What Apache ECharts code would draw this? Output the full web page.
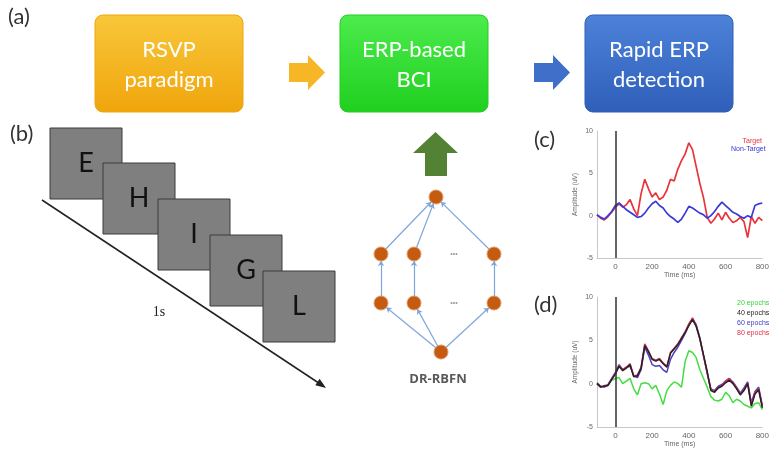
<!DOCTYPE html>
<html><head><meta charset="utf-8">
<script src="https://cdn.jsdelivr.net/npm/echarts@6/dist/echarts.min.js"></script>
<style>html,body{margin:0;padding:0;background:#fff}#c{width:772px;height:449px}</style>
</head><body><div id="c"></div>
<script>
// ---- data ----
var times = [-100,-80,-60,-40,-20,0,20,40,60,80,100,120,140,160,180,200,220,240,260,280,300,320,340,360,380,400,420,440,460,480,500,520,540,560,580,600,620,640,660,680,700,720,740,760,780,800];
var target = [0.1,-0.3,-0.5,-0.1,0.4,1.0,1.4,1.0,1.3,1.9,0.8,0.0,2.6,4.3,3.2,2.2,2.7,1.9,2.2,3.0,4.3,4.1,5.5,6.5,7.3,8.6,7.8,5.8,3.8,2.1,-0.2,-0.9,-0.4,0.3,-0.5,0.4,-0.3,-0.8,-0.6,-0.2,-0.7,-2.6,-0.1,-0.9,-0.2,-0.6];
var nonTarget = [0.1,-0.2,-0.4,0.0,0.5,1.2,1.5,1.1,0.7,0.4,0.1,-0.2,-0.1,0.3,0.9,1.4,1.7,1.2,0.9,0.3,-0.1,-0.4,-0.8,-0.4,0.3,1.1,0.9,0.6,0.3,0.1,-0.3,0.0,0.5,1.1,1.6,1.2,0.8,0.4,0.2,-0.1,-0.3,0.0,-0.2,1.2,1.4,1.5];
var ep20 = [0.0,-0.3,-0.3,-0.1,0.4,0.6,0.7,0.0,0.3,0.6,-0.6,-1.3,0.0,0.1,0.0,-0.6,-0.2,-1.2,-2.4,-0.8,-0.2,0.2,0.0,-0.4,2.6,3.8,3.6,3.0,1.6,0.6,-0.4,-1.5,-1.9,-2.0,-1.8,-1.0,-1.4,-2.2,-1.8,-2.0,-2.4,-2.6,-2.8,-2.3,-2.2,-3.0];
var ep40 = [0.0,-0.4,-0.3,-0.2,0.5,1.1,2.0,1.5,1.8,2.2,0.8,0.9,1.8,4.4,3.7,2.8,2.6,2.8,2.3,1.9,3.5,4.0,4.5,5.2,5.9,6.7,7.4,6.6,5.2,3.3,1.4,-0.8,-1.0,-0.5,-0.3,0.1,0.4,0.0,-0.6,-1.3,-0.8,0.0,-2.6,-1.2,-0.7,-2.8];
var ep60 = [0.1,-0.3,-0.4,-0.1,0.6,1.3,2.2,1.6,1.9,2.0,0.9,0.7,1.6,4.2,3.3,2.2,2.0,2.1,1.6,1.3,2.8,3.6,4.2,5.0,5.8,6.8,7.5,6.8,5.3,3.2,1.2,-0.6,-0.8,-0.3,-0.1,0.3,0.6,0.2,-0.4,-1.1,-0.5,0.2,-2.2,-0.9,-0.4,-2.5];
var ep80 = [0.0,-0.4,-0.2,-0.2,0.5,1.2,2.1,1.6,1.9,2.3,0.9,1.0,1.9,4.6,3.8,2.9,2.7,2.9,2.4,2.0,3.6,4.1,4.6,5.3,6.0,6.9,7.6,6.7,5.1,3.2,1.2,-0.7,-0.9,-0.4,-0.2,0.3,0.6,0.1,-0.5,-1.2,-0.7,0.1,-2.4,-1.0,-0.6,-2.6];
var yTicks = [-5, 0, 5, 10];
var xTicks = [0, 200, 400, 600, 800];
var flowBoxes = ['RSVP\nparadigm', 'ERP-based\nBCI', 'Rapid ERP\ndetection'];
var letters = ['E', 'H', 'I', 'G', 'L'];
var netNodes = [['top',436,197],['m1',381,254],['m2',414,254],['m3',494,254],['l1',381,303],['l2',414,303],['l3',494,303],['bot',441,352]];
var netEdges = [['m1','top'],['m2','top'],['m3','top'],['l1','m1'],['l2','m2'],['l3','m3'],['bot','l1'],['bot','l2'],['bot','l3']];

function pairs(v){ return times.map(function(t,i){ return [t, v[i]]; }); }

var chart = echarts.init(document.getElementById('c'), null, {renderer:'canvas'});
var LG = echarts.graphic.LinearGradient;
var boxColors = [['#f8c73a','#f0a50c'],['#4cec4c','#20cf20'],['#4d82d9','#2f5fb9']];
var boxX = [95, 340, 585];
var g = [];
g.push({type:'text', left:8, top:6, style:{text:'(a)', font:'22px Lato', fill:'#333'}});
g.push({type:'text', left:10, top:123, style:{text:'(b)', font:'22px Lato', fill:'#333'}});
g.push({type:'text', left:534, top:129, style:{text:'(c)', font:'22px Lato', fill:'#333'}});
g.push({type:'text', left:534, top:294, style:{text:'(d)', font:'22px Lato', fill:'#333'}});
flowBoxes.forEach(function(t, i){
  g.push({type:'rect', shape:{x:boxX[i], y:15, width:148, height:97, r:8},
    style:{fill:new LG(0,0,0,1,[{offset:0,color:boxColors[i][0]},{offset:1,color:boxColors[i][1]}]), stroke:boxColors[i][1], lineWidth:1}});
  g.push({type:'text', x:boxX[i]+74, y:65, style:{text:t, font:'22px Lato', fill:'#fff', align:'center', verticalAlign:'middle', lineHeight:30}});
});
// flow arrows
function blockArrow(x, col){
  return {type:'polygon', shape:{points:[[x,63],[x+19,63],[x+19,55],[x+36,72.5],[x+19,90],[x+19,82],[x,82]]}, style:{fill:col}};
}
g.push(blockArrow(289, '#f6b626'));
g.push(blockArrow(534, '#3f6fc8'));
// green up arrow
g.push({type:'polygon', shape:{points:[[425,176],[425,153],[413,153],[435.5,132],[458,153],[447,153],[447,176]]}, style:{fill:'#548235'}});
// RSVP squares
var sq = [[50,128],[103,163],[158,199],[210,235],[263,271]];
letters.forEach(function(l, i){
  g.push({type:'rect', shape:{x:sq[i][0], y:sq[i][1], width:72, height:71}, style:{fill:'#7f7f7f', stroke:'#3d3d3d', lineWidth:1}});
  g.push({type:'text', x:sq[i][0]+36, y:sq[i][1]+35, style:{text:l, font:'27px Lato', fill:'#111', align:'center', verticalAlign:'middle'}});
});
g.push({type:'line', shape:{x1:42, y1:200, x2:321, y2:384.5}, style:{stroke:'#222', lineWidth:1.5}});
g.push({type:'polygon', shape:{points:[[326,388],[315.3,385.2],[319.6,378.8]]}, style:{fill:'#222'}});
g.push({type:'text', x:159, y:312, style:{text:'1s', font:'14px "Liberation Serif"', fill:'#222', align:'center', verticalAlign:'middle'}});
g.push({type:'text', x:454, y:254, style:{text:'•••', font:'7px sans-serif', fill:'#999', align:'center', verticalAlign:'middle'}});
g.push({type:'text', x:454, y:303, style:{text:'•••', font:'7px sans-serif', fill:'#999', align:'center', verticalAlign:'middle'}});
g.push({type:'text', x:438, y:379, style:{text:'DR-RBFN', font:'bold 13px "Open Sans"', fill:'#595959', align:'center', verticalAlign:'middle'}});
// (c) legend
g.push({type:'text', x:762, y:141, style:{text:'Target', font:'7px Arial', fill:'#e8343a', align:'right', verticalAlign:'middle'}});
g.push({type:'text', x:731, y:149, style:{text:'Non-Target', font:'7px Arial', fill:'#3434d8', align:'left', verticalAlign:'middle'}});

function xAx(gi){
  return {type:'value', gridIndex:gi, min:-100, max:800, interval:100,
    name:'Time (ms)', nameLocation:'middle', nameGap:14, nameTextStyle:{fontSize:7, color:'#666'},
    axisLine:{onZero:false, lineStyle:{color:'#c8c8c8'}}, axisTick:{show:false}, splitLine:{show:false},
    axisLabel:{fontSize:8, color:'#666', margin:5, formatter:function(v){ return xTicks.indexOf(v)>=0 ? String(v) : ''; }}};
}
function yAx(gi){
  return {type:'value', gridIndex:gi, min:-5, max:10, interval:5,
    name:'Amplitude (uV)', nameLocation:'middle', nameGap:18, nameRotate:90, nameTextStyle:{fontSize:6.5, color:'#666'},
    axisLine:{show:true, onZero:false, lineStyle:{color:'#c8c8c8'}}, axisTick:{show:false}, splitLine:{show:false},
    axisLabel:{fontSize:7, color:'#666', margin:4, formatter:function(v){ return yTicks.indexOf(v)>=0 ? String(v) : ''; }}};
}
function ln(name, data, col, gi, w, mark){
  var s = {name:name, type:'line', xAxisIndex:gi, yAxisIndex:gi, data:pairs(data), symbol:'none', silent:true,
    lineStyle:{color:col, width:w||1.6}, itemStyle:{color:col}, z:3};
  if (mark) s.markLine = {silent:true, symbol:'none', label:{show:false}, lineStyle:{color:'#333', width:1.5, type:'solid'}, data:[{xAxis:0}]};
  return s;
}

var option = {
  backgroundColor:'#fff',
  animation:false,
  graphic:g,
  grid:[{left:597, right:9, top:131, bottom:191}, {left:597, right:9, top:297, bottom:19}],
  xAxis:[xAx(0), xAx(1)],
  yAxis:[yAx(0), yAx(1)],
  legend:{show:true, orient:'vertical', left:727, top:295, itemWidth:0, itemHeight:0, itemGap:3, icon:'none', selectedMode:false,
    textStyle:{fontSize:7, padding:0},
    data:[{name:'20 epochs', textStyle:{color:'#3cd33c'}},{name:'40 epochs', textStyle:{color:'#222'}},{name:'60 epochs', textStyle:{color:'#4040c8'}},{name:'80 epochs', textStyle:{color:'#e03040'}}]},
  series:[
    ln('Target', target, '#e8343a', 0, 1.7, true),
    ln('Non-Target', nonTarget, '#3a3ad8', 0, 1.7, false),
    ln('20 epochs', ep20, '#44dd44', 1, 1.5, true),
    ln('60 epochs', ep60, '#4a40c0', 1, 1.5, false),
    ln('80 epochs', ep80, '#d03348', 1, 1.5, false),
    ln('40 epochs', ep40, '#2a1f2a', 1, 1.5, false),
    {type:'graph', layout:'none', left:381, top:197, width:113, height:155, silent:true, z:5,
      symbolSize:14, itemStyle:{color:'#c55a11', borderColor:'#e39a63', borderWidth:1},
      label:{show:false}, edgeSymbol:['none','arrow'], edgeSymbolSize:[0,5],
      lineStyle:{color:'#7fa6dc', width:1.2, opacity:1},
      data:netNodes.map(function(n){ return {name:n[0], x:n[1], y:n[2]}; }),
      links:netEdges.map(function(e){ return {source:e[0], target:e[1]}; })}
  ]
};
chart.setOption(option);
</script></body></html>
